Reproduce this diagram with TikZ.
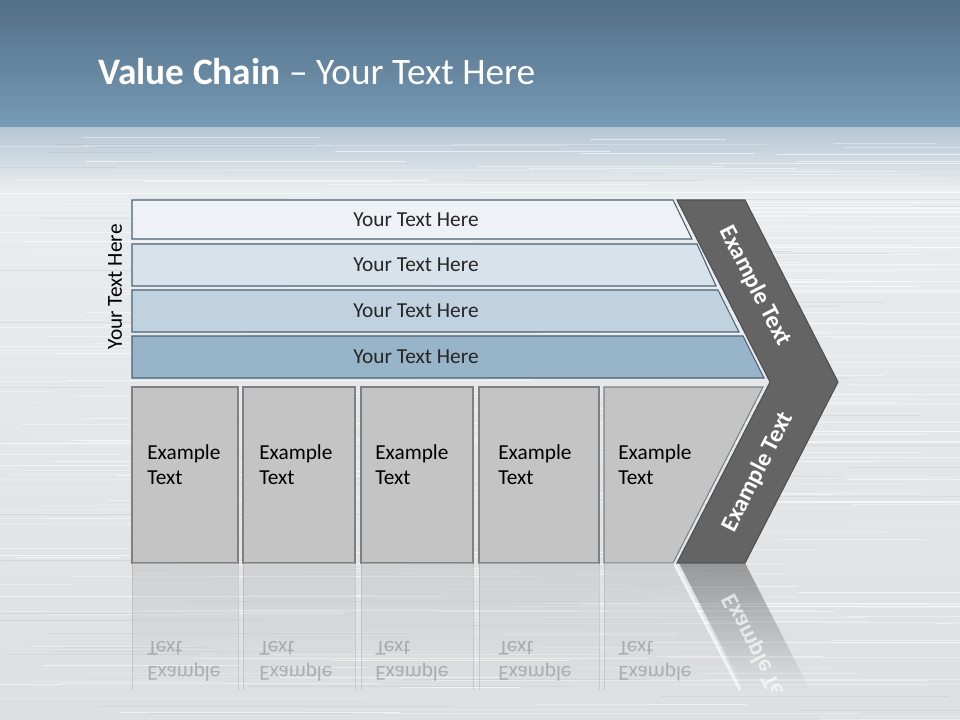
\documentclass[tikz,border=0pt]{standalone}
\usepackage{fontspec}
\setmainfont{Carlito}
\usetikzlibrary{fadings}

\definecolor{headtop}{HTML}{536E86}
\definecolor{headbot}{HTML}{779BB6}
\definecolor{silvertop}{HTML}{B6C7D3}
\definecolor{silvermid}{HTML}{EAEDEF}
\definecolor{silverbot}{HTML}{DCE0E3}
\definecolor{barline}{HTML}{4A6176}
\definecolor{barA}{HTML}{EEF2F6}
\definecolor{barB}{HTML}{D7E2EB}
\definecolor{barC}{HTML}{C0D1DF}
\definecolor{barD}{HTML}{97B4C9}
\definecolor{cellgray}{HTML}{C4C4C4}
\definecolor{cellline}{HTML}{808080}
\definecolor{chev}{HTML}{646464}
\definecolor{chevline}{HTML}{4F4F4F}
\definecolor{textdark}{HTML}{262626}

\tikzfading[name=fadedown, top color=transparent!40, bottom color=transparent!100]

\tikzset{
  bar/.style={draw=barline, line width=0.8pt},
  cell/.style={fill=cellgray, draw=cellline, line width=0.8pt},
  bartext/.style={font=\fontsize{16}{19}\selectfont, text=textdark},
  celltext/.style={font=\fontsize{16}{18.75}\selectfont, align=left, anchor=north west, inner sep=0pt},
  armtext/.style={font=\fontsize{18}{21}\selectfont\bfseries, text=white},
}

\begin{document}
\begin{tikzpicture}[x=0.75pt, y=-0.75pt]
    \useasboundingbox (0,0) rectangle (960,720);

    % background
    \fill[top color=headtop, bottom color=headbot] (0,0) rectangle (960,128);
    \fill[top color=silvertop, bottom color=silvermid] (0,128) rectangle (960,190);
    \fill[top color=silvermid, bottom color=silverbot] (0,190) rectangle (960,720);
    \pgfmathsetseed{7}
    \foreach \i in {1,...,320} {
        \pgfmathsetmacro{\yy}{135+585*rnd}
        \pgfmathsetmacro{\xs}{-100+960*rnd}
        \pgfmathsetmacro{\len}{100+400*rnd}
        \pgfmathsetmacro{\op}{0.15+0.45*rnd}
        \draw[white, opacity=\op, line width=0.45pt] (\xs,\yy) -- (\xs+\len,\yy);
    }
    \foreach \i in {1,...,60} {
        \pgfmathsetmacro{\yy}{135+585*rnd}
        \pgfmathsetmacro{\xs}{-100+960*rnd}
        \pgfmathsetmacro{\len}{100+300*rnd}
        \draw[gray, opacity=0.12, line width=0.4pt] (\xs,\yy) -- (\xs+\len,\yy);
    }

    \node[anchor=base west, inner sep=0pt, text=white, font=\fontsize{28}{33}\selectfont] (title) at (98,85)
        {\textbf{Value Chain} -- Your Text Here};

    % bars
    \foreach \ya/\yb/\xa/\xb/\col/\n in {200/239/673/692/barA/1, 244/286/697/716/barB/2,
                                        290/332/718/739/barC/3, 336/378/743/764/barD/4} {
        \draw[bar, fill=\col] (132,\ya) -- (\xa,\ya) -- (\xb,\yb) -- (132,\yb) -- cycle;
        \node[bartext] (bar\n) at (416,{(\ya+\yb)/2}) {Your Text Here};
    }
    \node[bartext, text=black, rotate=90] (side) at (115,287) {Your Text Here};

    % cells
    \foreach \xa/\xb/\xt/\n in {132/238/147/1, 243/355/259/2, 361/473/375/3, 479/599/498/4} {
        \draw[cell] (\xa,387) rectangle (\xb,563);
        \node[celltext] (cell\n) at (\xt,444) {Example\\Text};
    }
    \draw[cell] (604,387) -- (763,387) -- (673,563) -- (604,563) -- cycle;
    \node[celltext] (cell5) at (618,444) {Example\\Text};

    % chevron
    \draw[fill=chev, draw=chevline, line width=0.8pt]
        (677,200) -- (745,200) -- (838,382) -- (745,563) -- (677,563) -- (770,382) -- cycle;
    \node[armtext, rotate=-63] (armup) at (755,286) {Example Text};
    \node[armtext, rotate=63] (armdown) at (758,472) {Example Text};

    % reflection
    \foreach \xa/\xb in {132/238, 243/355, 361/473, 479/599} {
        \fill[cellgray, path fading=fadedown] (\xa,563) rectangle (\xb,690);
        \draw[cellline, opacity=0.25] (\xa,563) -- (\xa,690) (\xb,563) -- (\xb,690);
    }
    \fill[cellgray, path fading=fadedown] (604,563) -- (673,563) -- (738,690) -- (604,690) -- cycle;
    \draw[cellline, opacity=0.25] (604,563) -- (604,690);
    \draw[white, line width=2pt, opacity=0.6] (675,565) -- (740,690);
    \fill[chev, path fading=fadedown] (679,563) -- (745,563) -- (810,690) -- (744,690) -- cycle;
    \begin{scope}
        \clip (0,563) rectangle (960,690);
        \begin{scope}[shift={(0,1126)}, yscale=-1, transform shape]
            \foreach \xt/\n in {147/1, 259/2, 375/3, 498/4, 618/5}
                \node[celltext, opacity=0.22] (refl\n) at (\xt,444) {Example\\Text};
            \node[armtext, rotate=63, opacity=0.65] (reflarm) at (758,472) {Example Text};
        \end{scope}
    \end{scope}
\end{tikzpicture}
\end{document}
